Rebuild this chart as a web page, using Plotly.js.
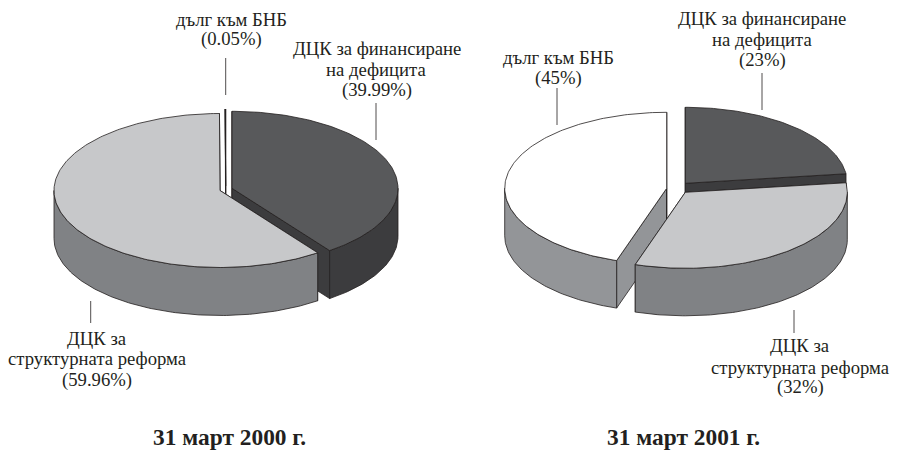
<!DOCTYPE html>
<html>
<head>
<meta charset="utf-8">
<script src="https://cdn.plot.ly/plotly-3.0.1.min.js"></script>
<style>html,body{margin:0;padding:0;background:#fff}#chart{width:899px;height:451px}</style>
</head>
<body>
<div id="chart"></div>
<script>
// ---- data ----
const categories = ['ДЦК за финансиране', 'ДЦК за структурната реформа', 'дълг към БНБ'];
const shares2000 = [39.99, 59.96, 0.05];
const shares2001 = [23, 32, 45];
const periods = ['31 март 2000 г.', '31 март 2001 г.'];
const labels2000 = [['ДЦК за финансиране', 'на дефицита', '(39.99%)'], ['ДЦК за', 'структурната реформа', '(59.96%)'], ['дълг към БНБ', '(0.05%)']];
const labels2001 = [['ДЦК за финансиране', 'на дефицита', '(23%)'], ['ДЦК за', 'структурната реформа', '(32%)'], ['дълг към БНБ', '(45%)']];

// ---- styling / geometry ----
const INK = '#231f20';
const topColors = ['#58595b', '#c7c8ca', '#ffffff'];
const sideColors = [['#3c3c3e', '#808285', '#ffffff'], ['#3c3c3e', '#808285', '#939598']];
const pieGeom = [
  {rx: 166, ry: 77, depth: 48, centers: [[232, 188.3], [220, 190.5], [225.7, 186]]},
  {rx: 162, ry: 76, depth: 47.5, centers: [[685.3, 183.3], [685.3, 192.3], [666.7, 188.3]]}
];
const leaders = [
  [[376, 103, 140], [90.7, 301, 323], [225.7, 58, 95]],
  [[762, 73, 110], [794, 310, 333], [557, 88, 125]]
];
const labelPos = [
  [[376.5, [48, 69.5, 90]], [97, [338, 358, 380]], [231.5, [19, 39]]],
  [[762, [18, 39, 60]], [800, [345, 367, 387]], [558, [57, 78]]]
];
const titlePos = [[229.5, 436.5], [683.5, 436.5]];
const drawOrder = [0, 2, 1];

const traces = [];
function pt(c, g, deg, dy) {
  const r = deg * Math.PI / 180;
  return [c[0] + g.rx * Math.sin(r), c[1] - g.ry * Math.cos(r) + (dy || 0)];
}
function arc(c, g, a0, a1, dy) {
  const out = [], n = Math.max(2, Math.ceil(Math.abs(a1 - a0)));
  for (let i = 0; i <= n; i++) out.push(pt(c, g, a0 + (a1 - a0) * i / n, dy));
  return out;
}
function poly(points, fill, name) {
  const closed = points.concat([points[0]]);
  traces.push({
    type: 'scatter', mode: 'lines', name: name, showlegend: false, hoverinfo: 'name',
    x: closed.map(p => p[0]), y: closed.map(p => p[1]),
    fill: 'toself', fillcolor: fill,
    line: {color: INK, width: 0.8}
  });
}
function drawPie(shares, idx) {
  const g = pieGeom[idx];
  let acc = 0;
  const spans = shares.map(s => { const a = [acc * 3.6, (acc + s) * 3.6]; acc += s; return a; });
  drawOrder.forEach(i => {
    const c = g.centers[i], a0 = spans[i][0], a1 = spans[i][1];
    const side = sideColors[idx][i], name = categories[i] + ' (' + shares[i] + '%)';
    [a0, a1].forEach(a => {
      const e = pt(c, g, a);
      poly([[c[0], c[1]], e, [e[0], e[1] + g.depth], [c[0], c[1] + g.depth]], side, name);
    });
    const v0 = Math.max(a0, 90), v1 = Math.min(a1, 270);
    if (v1 > v0) {
      poly(arc(c, g, v0, v1).concat(arc(c, g, v1, v0, g.depth)), side, name);
    }
    poly([[c[0], c[1]]].concat(arc(c, g, a0, a1)), topColors[i], name);
  });
}
drawPie(shares2000, 0);
drawPie(shares2001, 1);

leaders.forEach(set => set.forEach(l => {
  traces.push({type: 'scatter', mode: 'lines', showlegend: false, hoverinfo: 'skip',
    x: [l[0], l[0]], y: [l[1], l[2]], line: {color: INK, width: 0.8}});
}));

const annotations = [];
[labels2000, labels2001].forEach((set, p) => set.forEach((lines, i) => {
  lines.forEach((t, k) => annotations.push({text: t, x: labelPos[p][i][0], y: labelPos[p][i][1][k], xref: 'x', yref: 'y',
    showarrow: false, xanchor: 'center', yanchor: 'middle', align: 'center',
    font: {family: '"Liberation Serif", serif', size: 18.7, color: INK}}));
}));
periods.forEach((t, p) => annotations.push({text: '<b>' + t + '</b>', x: titlePos[p][0], y: titlePos[p][1],
  xref: 'x', yref: 'y', showarrow: false, xanchor: 'center', yanchor: 'middle',
  font: {family: '"Liberation Serif", serif', size: 23.4, color: INK}}));

Plotly.newPlot('chart', traces, {
  width: 899, height: 451, margin: {l: 0, r: 0, t: 0, b: 0},
  paper_bgcolor: '#fff', plot_bgcolor: '#fff', showlegend: false,
  xaxis: {range: [0, 899], visible: false, fixedrange: true},
  yaxis: {range: [451, 0], visible: false, fixedrange: true},
  annotations: annotations
}, {displayModeBar: false, staticPlot: true});
</script>
</body>
</html>
